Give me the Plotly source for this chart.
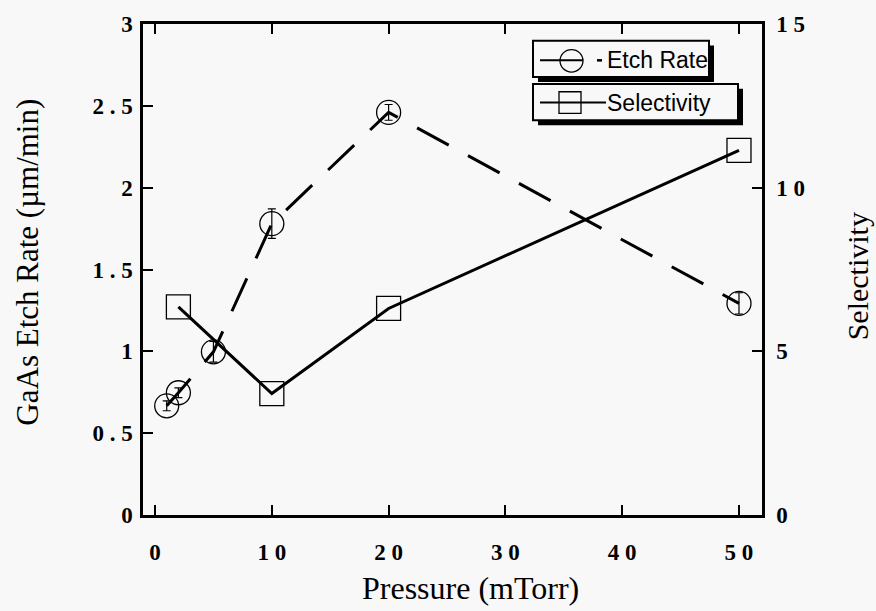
import plotly.graph_objects as go

# ---- data ----
pressure_etch = [1, 2, 5, 10, 20, 50]
etch_rate = [0.667, 0.747, 0.997, 1.78, 2.46, 1.293]
etch_err = [0.03, 0.03, 0.063, 0.09, 0.048, 0.065]

pressure_sel = [2, 10, 20, 50]
selectivity = [6.36, 3.71, 6.31, 11.14]

SP = "\u2005"
x_ticks = [0, 10, 20, 30, 40, 50]
x_ticktext = ["0", "1" + SP + "0", "2" + SP + "0", "3" + SP + "0", "4" + SP + "0", "5" + SP + "0"]
y_ticks = [0, 0.5, 1, 1.5, 2, 2.5, 3]
y_ticktext = ["0", "0" + SP + "." + SP + "5", "1", "1" + SP + "." + SP + "5", "2",
              "2" + SP + "." + SP + "5", "3"]
y2_ticks = [0, 5, 10, 15]
y2_ticktext = ["0", "5", "1" + SP + "0", "1" + SP + "5"]

W, H = 876, 611
L, R, T, B = 143, 762, 15, 515
BG = "#f8f8f8"
SERIF = "Liberation Serif, Times New Roman, serif"
SANS = "Liberation Sans, Arial, sans-serif"


def px(x):
    return (x - L) / (R - L)


def py(y):
    return (B - y) / (B - T)


fig = go.Figure()

fig.add_trace(go.Scatter(
    x=pressure_etch, y=etch_rate, mode="lines+markers", name="Etch Rate",
    line=dict(color="black", width=3, dash="36px,22px"),
    marker=dict(symbol="circle-open", size=24, color="black", line=dict(width=1.3, color="black")),
    error_y=dict(type="data", array=etch_err, visible=True, color="black", thickness=1.2, width=4),
    showlegend=False,
))

fig.add_trace(go.Scatter(
    x=pressure_sel, y=selectivity, mode="lines+markers", name="Selectivity",
    yaxis="y2",
    line=dict(color="black", width=3),
    marker=dict(symbol="square-open", size=24, color="black", line=dict(width=1.3, color="black")),
    showlegend=False,
))

tickfont = dict(family=SERIF, size=23, color="black", weight="bold")

fig.update_layout(
    width=W, height=H,
    margin=dict(l=L, r=W - R, t=T, b=H - B),
    paper_bgcolor=BG, plot_bgcolor=BG,
    xaxis=dict(
        range=[-1.03, 51.97], tickvals=x_ticks, ticktext=x_ticktext,
        ticks="inside", ticklen=10, tickwidth=2, tickcolor="black",
        showline=True, linewidth=2.5, linecolor="black", mirror="ticks",
        showgrid=False, zeroline=False,
        tickfont=tickfont,
        ticklabelstandoff=15,
    ),
    yaxis=dict(
        range=[0, 3], tickvals=y_ticks, ticktext=y_ticktext,
        ticks="inside", ticklen=10, tickwidth=2, tickcolor="black",
        showline=True, linewidth=2.5, linecolor="black",
        showgrid=False, zeroline=False,
        tickfont=tickfont,
        ticklabelstandoff=3,
    ),
    yaxis2=dict(
        range=[0, 15], tickvals=y2_ticks, ticktext=y2_ticktext,
        overlaying="y", side="right",
        ticks="inside", ticklen=10, tickwidth=2, tickcolor="black",
        showline=True, linewidth=2.5, linecolor="black",
        showgrid=False, zeroline=False,
        tickfont=tickfont,
        ticklabelstandoff=7,
    ),
)

annotations = [
    dict(text="Pressure (mTorr)", x=px(470), y=py(589), xref="paper", yref="paper",
         showarrow=False, font=dict(family=SERIF, size=32, color="black"),
         xanchor="center", yanchor="middle"),
    dict(text="GaAs Etch Rate (\u00b5m/min)", x=px(28), y=py(258), xref="paper", yref="paper",
         showarrow=False, font=dict(family=SERIF, size=31, color="black"), textangle=-90,
         xanchor="center", yanchor="middle"),
    dict(text="Selectivity", x=px(857), y=py(272), xref="paper", yref="paper",
         showarrow=False, font=dict(family=SERIF, size=30, color="black"), textangle=-90,
         xanchor="center", yanchor="middle"),
    dict(text="Etch Rate", x=px(605), y=py(52), xref="paper", yref="paper",
         showarrow=False, font=dict(family=SANS, size=23, color="black"),
         xanchor="left", yanchor="middle"),
    dict(text="Selectivity", x=px(605), y=py(95), xref="paper", yref="paper",
         showarrow=False, font=dict(family=SANS, size=23, color="black"),
         xanchor="left", yanchor="middle"),
]

shapes = []


def box(x0, y0, x1, y1):
    # shadow
    shapes.append(dict(type="rect", xref="paper", yref="paper",
                       x0=px(x0 + 5), x1=px(x1 + 5), y0=py(y0 + 5), y1=py(y1 + 5),
                       fillcolor="black", line=dict(width=0)))
    shapes.append(dict(type="rect", xref="paper", yref="paper",
                       x0=px(x0), x1=px(x1), y0=py(y0), y1=py(y1),
                       fillcolor=BG, line=dict(color="black", width=2)))


box(533, 32, 709, 69)
box(533, 76, 738, 113)

# legend samples
shapes.append(dict(type="line", xref="paper", yref="paper", x0=px(540), x1=px(583),
                   y0=py(52), y1=py(52), line=dict(color="black", width=2)))
shapes.append(dict(type="line", xref="paper", yref="paper", x0=px(597), x1=px(602),
                   y0=py(52), y1=py(52), line=dict(color="black", width=2.5)))
shapes.append(dict(type="circle", xref="paper", yref="paper", x0=px(560), x1=px(583),
                   y0=py(41), y1=py(64), line=dict(color="black", width=1.3)))
shapes.append(dict(type="line", xref="paper", yref="paper", x0=px(540), x1=px(606),
                   y0=py(95), y1=py(95), line=dict(color="black", width=2)))
shapes.append(dict(type="rect", xref="paper", yref="paper", x0=px(559), x1=px(581),
                   y0=py(84), y1=py(106), line=dict(color="black", width=1.3)))

fig.update_layout(annotations=annotations, shapes=shapes)

fig.write_html("out.html")
